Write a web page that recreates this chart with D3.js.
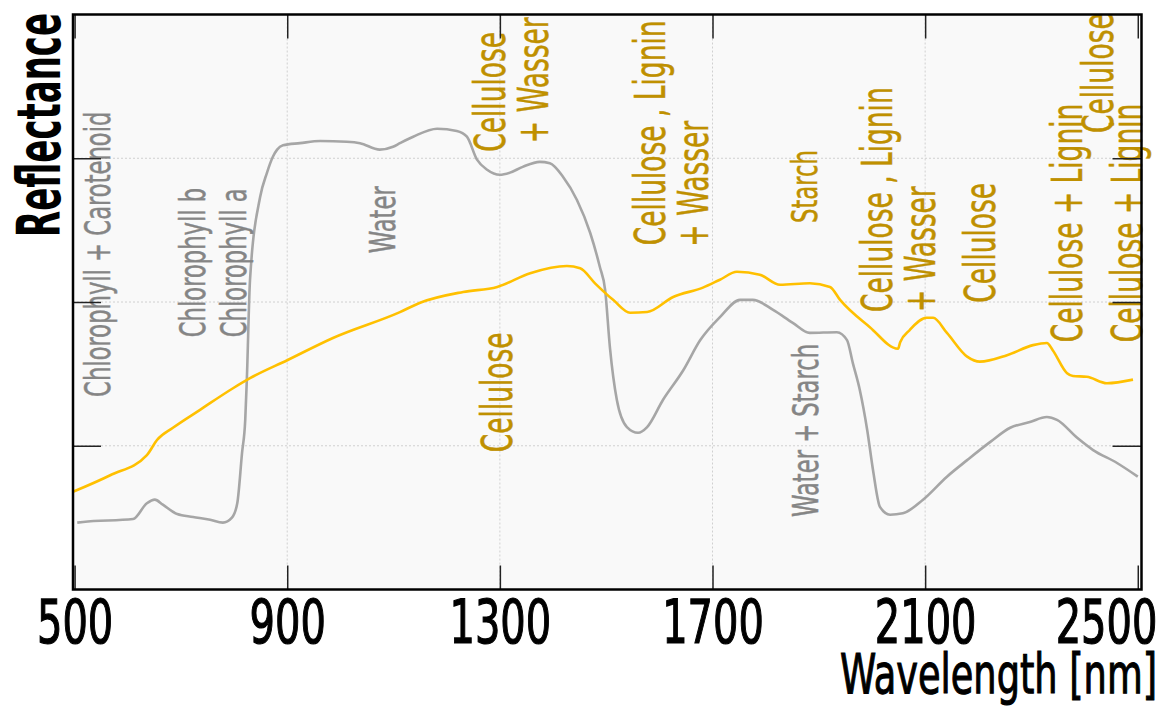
<!DOCTYPE html>
<html lang="en">
<head>
    <meta charset="UTF-8">
    <title>Reflectance spectra</title>
    <script src="https://cdnjs.cloudflare.com/ajax/libs/d3/7.8.5/d3.min.js"></script>
    <style>
      body {
        margin: 0;
        background-color: white;
      }
      svg text {
        font-family: 'DejaVu Sans Condensed', 'DejaVu Sans', sans-serif;
      }
    </style>
</head>
<body>
  <div id="chart"></div>
  <script>
    // green leaf spectrum (grey) and dry plant material (yellow)
    const leafWavelength = [505,516,610,636,651,666,693,723,755,779,796,806,815,821,824,830,849,862,873,881,892,924,962,1012,1037,1074,1099,1112,1137,1182,1219,1238,1257,1276,1300,1319,1343,1375,1394,1419,1445,1470,1488,1498,1507,1520,1539,1560,1577,1607,1645,1677,1714,1752,1776,1814,1851,1883,1934,1953,1964,1977,1991,2002,2015,2034,2058,2096,2141,2179,2222,2260,2297,2329,2348,2386,2416,2461,2500];
    const leafReflectance = [0.093,0.094,0.098,0.120,0.125,0.118,0.105,0.101,0.097,0.093,0.100,0.120,0.190,0.236,0.292,0.431,0.546,0.580,0.602,0.612,0.618,0.621,0.624,0.623,0.621,0.612,0.616,0.621,0.630,0.641,0.638,0.630,0.598,0.584,0.577,0.580,0.588,0.595,0.593,0.574,0.542,0.496,0.449,0.417,0.337,0.264,0.226,0.218,0.226,0.264,0.305,0.347,0.379,0.403,0.403,0.389,0.371,0.357,0.358,0.347,0.315,0.278,0.222,0.166,0.115,0.104,0.106,0.125,0.157,0.180,0.205,0.225,0.233,0.240,0.236,0.211,0.194,0.176,0.157];

    const dryWavelength = [497,567,636,655,685,736,798,830,900,986,1112,1150,1231,1295,1357,1426,1451,1479,1513,1545,1577,1626,1682,1714,1746,1789,1827,1883,1921,1940,1996,2049,2053,2071,2103,2115,2141,2179,2203,2254,2303,2329,2340,2367,2378,2404,2442,2491];
    const dryReflectance = [0.136,0.159,0.187,0.208,0.225,0.250,0.280,0.294,0.319,0.350,0.386,0.399,0.414,0.421,0.440,0.450,0.447,0.426,0.403,0.385,0.386,0.407,0.420,0.431,0.442,0.438,0.424,0.426,0.421,0.403,0.365,0.335,0.344,0.361,0.378,0.378,0.357,0.324,0.317,0.326,0.340,0.343,0.333,0.301,0.297,0.296,0.287,0.292];

    const xTicks = [500, 900, 1300, 1700, 2100, 2500];
    const yTicks = [0.2, 0.4, 0.6];

    // absorption features: label, wavelength, reflectance where the label starts, kind
    const featureLabels = ["Chlorophyll + Carotenoid","Chlorophyll b","Chlorophyll a","Water","Cellulose","+ Wasser","Cellulose","Cellulose , Lignin","+ Wasser","Starch","Water + Starch","Cellulose , Lignin","+ Wasser","Cellulose","Cellulose + Lignin","Cellulose","Cellulose + Lignin"];
    const featureWavelength = [567,745,822,1103,1310,1390,1323,1611,1691,1896,1898,2038,2119,2231,2395,2453,2508];
    const featureReflectance = [0.268,0.351,0.351,0.468,0.609,0.621,0.191,0.479,0.477,0.510,0.101,0.386,0.386,0.399,0.344,0.635,0.344];
    const featureKind = ["leaf","leaf","leaf","leaf","dry","dry","dry","dry","dry","dryMinor","leaf","dry","dry","dry","dry","dry","dry"];

    const width = 1164;
    const height = 709;
    const margin = {top: 14.5, right: 22.5, bottom: 119.5, left: 73};
    const innerW = width - margin.left - margin.right;
    const innerH = height - margin.top - margin.bottom;

    const leafColor = '#a6a6a6';
    const dryColor = '#ffc000';
    const kindStyle = {
      leaf: {fill: '#858585', size: 36},
      dry: {fill: '#bf9000', size: 42},
      dryMinor: {fill: '#bf9000', size: 36}
    };

    // squeeze text so the font looks like a tall condensed face
    function squeeze(sel, f) {
      sel.each(function() {
        const w = this.getComputedTextLength();
        d3.select(this).attr('textLength', w * f).attr('lengthAdjust', 'spacingAndGlyphs');
      });
    }

    const svg = d3.select('#chart').append('svg')
        .attr('width', width)
        .attr('height', height);

    const g = svg.append('g').attr('transform', `translate(${margin.left},${margin.top})`);

    const x = d3.scaleLinear().domain([497, 2507]).range([0, innerW]);
    const y = d3.scaleLinear().domain([0, 0.8]).range([innerH, 0]);

    g.append('rect')
        .attr('width', innerW)
        .attr('height', innerH)
        .attr('fill', '#f9f9f9');

    // dotted grid
    g.selectAll('.vgrid')
        .data(xTicks.filter(d => x(d) > 10 && x(d) < innerW - 10))
        .join('line')
        .attr('x1', d => x(d)).attr('x2', d => x(d))
        .attr('y1', 0).attr('y2', innerH)
        .attr('stroke', '#d0d0d0').attr('stroke-width', 1).attr('stroke-dasharray', '2,2');
    g.selectAll('.hgrid')
        .data(yTicks)
        .join('line')
        .attr('x1', 0).attr('x2', innerW)
        .attr('y1', d => y(d)).attr('y2', d => y(d))
        .attr('stroke', '#d0d0d0').attr('stroke-width', 1).attr('stroke-dasharray', '2,2');

    // curves
    const leafData = leafWavelength.map((w, i) => [w, leafReflectance[i]]);
    const dryData = dryWavelength.map((w, i) => [w, dryReflectance[i]]);
    const line = d3.line()
        .x(d => x(d[0]))
        .y(d => y(d[1]))
        .curve(d3.curveMonotoneX);

    g.append('path').datum(leafData)
        .attr('d', line).attr('fill', 'none')
        .attr('stroke', leafColor).attr('stroke-width', 2.6).attr('stroke-linejoin', 'round');
    g.append('path').datum(dryData)
        .attr('d', line).attr('fill', 'none')
        .attr('stroke', dryColor).attr('stroke-width', 2.6).attr('stroke-linejoin', 'round');

    // feature labels, rotated, reading upwards from the anchor
    const labels = g.selectAll('.feature')
        .data(featureLabels)
        .join('text')
        .attr('class', 'feature')
        .attr('transform', (d, i) => `translate(${x(featureWavelength[i])},${y(featureReflectance[i])}) rotate(-90)`)
        .attr('text-anchor', 'start')
        .attr('fill', (d, i) => kindStyle[featureKind[i]].fill)
        .attr('stroke', (d, i) => kindStyle[featureKind[i]].fill)
        .attr('stroke-width', 0.5)
        .attr('font-size', (d, i) => kindStyle[featureKind[i]].size)
        .text(d => d);
    squeeze(labels, 0.70);

    // axes with inward ticks
    const axisBottomG = g.append('g')
        .attr('transform', `translate(0,${innerH})`)
        .call(d3.axisBottom(x).tickValues(xTicks).tickFormat(d3.format('d')).tickSizeInner(-24).tickSizeOuter(0));
    axisBottomG.select('.domain').remove();
    axisBottomG.selectAll('line').attr('stroke', '#222').attr('stroke-width', 1.5);
    axisBottomG.selectAll('text')
        .attr('y', 53.5).attr('dy', 0)
        .attr('font-size', 60).attr('fill', '#000')
        .attr('stroke', '#000').attr('stroke-width', 1.2);
    // last label would run off the page, pull it back inside
    axisBottomG.selectAll('.tick').filter(d => d === xTicks[xTicks.length - 1]).select('text')
        .attr('x', 1106 - margin.left - x(xTicks[xTicks.length - 1]));
    squeeze(axisBottomG.selectAll('text'), 0.74);

    const axisTopG = g.append('g')
        .call(d3.axisTop(x).tickValues(xTicks).tickSizeInner(-24).tickSizeOuter(0).tickFormat(''));
    axisTopG.select('.domain').remove();
    axisTopG.selectAll('line').attr('stroke', '#222').attr('stroke-width', 1.5);

    const axisLeftG = g.append('g')
        .call(d3.axisLeft(y).tickValues(yTicks).tickSizeInner(-28).tickSizeOuter(0).tickFormat(''));
    axisLeftG.select('.domain').remove();
    axisLeftG.selectAll('line').attr('stroke', '#222').attr('stroke-width', 1.5);

    const axisRightG = g.append('g')
        .attr('transform', `translate(${innerW},0)`)
        .call(d3.axisRight(y).tickValues(yTicks).tickSizeInner(-29).tickSizeOuter(0).tickFormat(''));
    axisRightG.select('.domain').remove();
    axisRightG.selectAll('line').attr('stroke', '#222').attr('stroke-width', 1.5);

    // frame
    g.append('rect')
        .attr('width', innerW)
        .attr('height', innerH)
        .attr('fill', 'none')
        .attr('stroke', '#000')
        .attr('stroke-width', 2.5);

    // axis titles
    svg.append('text')
        .attr('x', 1157).attr('y', 693)
        .attr('text-anchor', 'end')
        .attr('font-size', 56)
        .attr('stroke', '#000').attr('stroke-width', 1.1)
        .attr('textLength', 317).attr('lengthAdjust', 'spacingAndGlyphs')
        .text('Wavelength [nm]');

    svg.append('text')
        .attr('transform', 'translate(60,237) rotate(-90)')
        .attr('text-anchor', 'start')
        .attr('font-size', 60)
        .attr('font-weight', 'bold')
        .attr('textLength', 224).attr('lengthAdjust', 'spacingAndGlyphs')
        .text('Reflectance');
  </script>
</body>
</html>
